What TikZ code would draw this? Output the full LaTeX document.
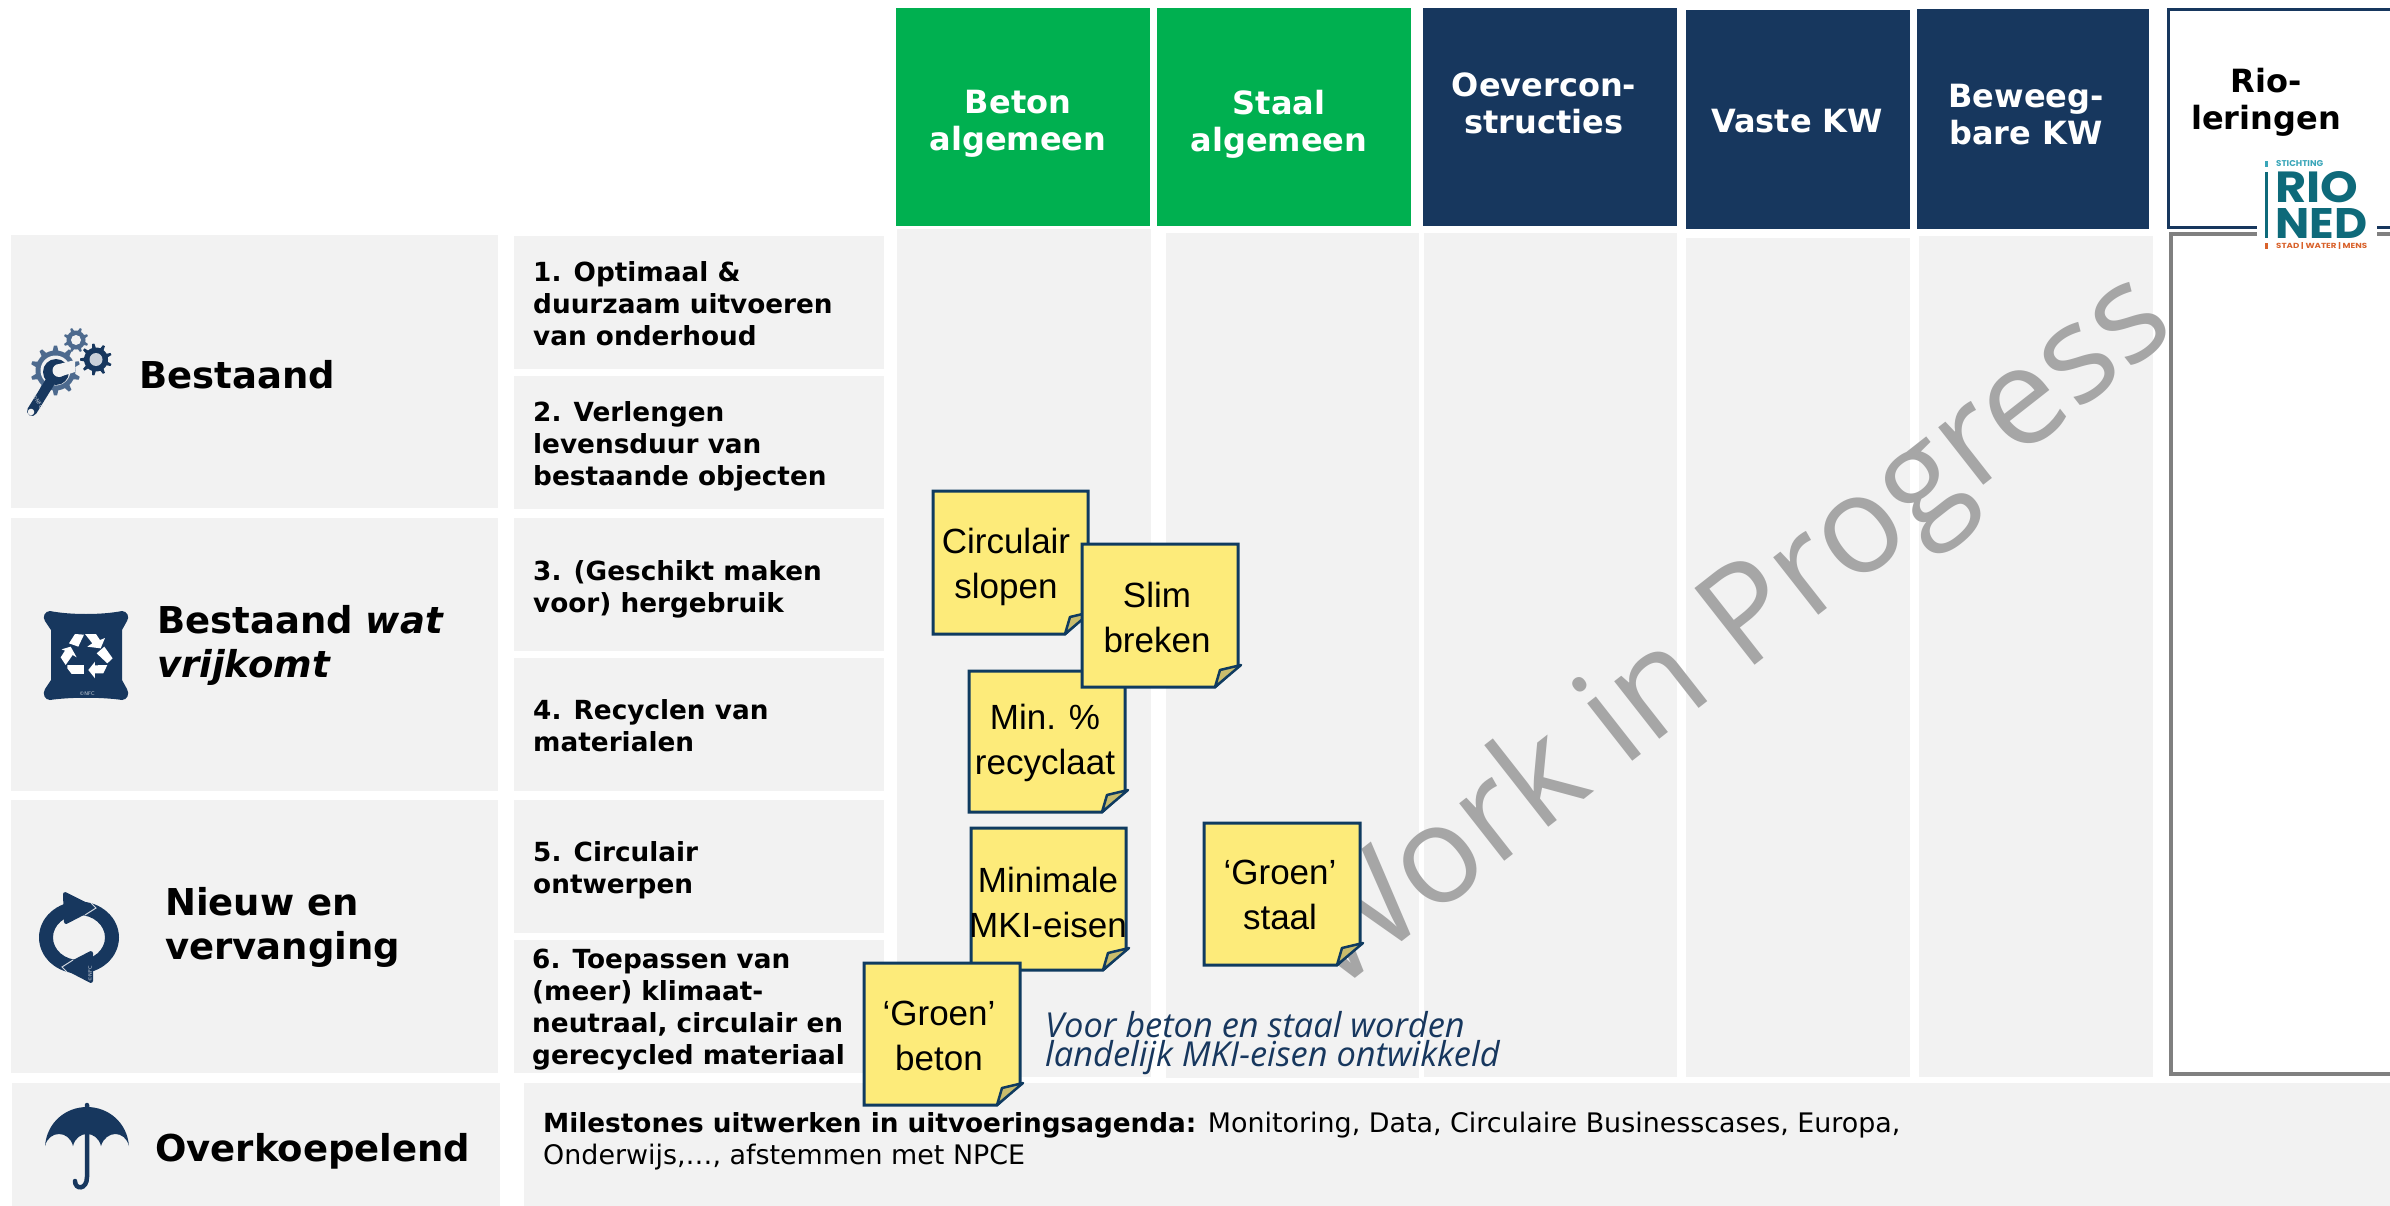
\documentclass[tikz,border=0pt]{standalone}
\usepackage{fontspec}
\usepackage{graphicx}
\setmainfont{DejaVu Sans}
\newfontfamily\notefont{Liberation Sans}
\newfontfamily\bluefont{Open Sans}
\newfontfamily\logofont{Poppins}
\usetikzlibrary{calc}
\definecolor{navy}{HTML}{17375E}
\definecolor{midnavy}{HTML}{4D6A8E}
\definecolor{green}{HTML}{00B050}
\definecolor{panel}{HTML}{F2F2F2}
\definecolor{notey}{HTML}{FDEB7A}
\definecolor{noteb}{HTML}{0F3B60}
\definecolor{notef}{HTML}{C9BC6C}
\definecolor{wip}{HTML}{A6A6A6}
\definecolor{rteal}{HTML}{0E6A7A}
\definecolor{rlight}{HTML}{3AA6B9}
\definecolor{rorange}{HTML}{D9622B}
\newcommand\fs[2]{\fontsize{#1}{#2}\selectfont}
\newcommand\panelrect[4]{\fill[panel] (#1,#2) rectangle (#3,#4);}
% x y Ro Ri teeth hole colour holecolour
\newcommand\gearicon[8]{%
  \begin{scope}[shift={(#1,#2)}]
  \fill[#7] (0:#4) \foreach \i in {1,...,#5}{
     -- ({(\i-0.72)*360/#5}:#4) -- ({(\i-0.6)*360/#5}:#3) -- ({(\i-0.4)*360/#5}:#3) -- ({(\i-0.28)*360/#5}:#4) -- ({\i*360/#5}:#4)} -- cycle;
  \fill[#8] (0,0) circle (#6);
  \end{scope}}
% sticky: name l t r b textx texty text
\newcommand\sticky[8]{%
  \filldraw[notestyle] (#2,#3) -- (#4,#3) -- (#4,#5-21) -- (#4-23,#5) -- (#2,#5) -- cycle;
  \filldraw[notefold] (#4-23,#5) -- (#4-18,#5-17) -- (#4+3,#5-22) -- cycle;
  \node[notetext] (#1) at (#6,#7) {#8};}
\tikzset{
  notestyle/.style={fill=notey,draw=noteb,line width=3pt,line join=miter},
  notefold/.style={fill=notef,draw=noteb,line width=2.5pt,line join=round},
  notetext/.style={align=center,inner sep=0,font=\notefont\fs{35}{45}},
  headtext/.style={align=center,inner sep=0,text=white,font=\bfseries\fs{32}{37}},
  rowtext/.style={align=left,anchor=west,inner sep=0,font=\bfseries\fs{26.3}{32}},
  grouptext/.style={align=left,anchor=west,inner sep=0,font=\bfseries\fs{37}{44}},
}
\begin{document}
\begin{tikzpicture}[x=1pt,y=-1pt]
\useasboundingbox (0,0) rectangle (2390,1206);
% left panels
\panelrect{11}{235}{498}{508}
\panelrect{11}{518}{498}{791}
\panelrect{11}{800}{498}{1073}
\panelrect{12}{1083}{500}{1206}
\panelrect{524}{1083}{2390}{1206}
\panelrect{514}{236}{884}{369}
\panelrect{514}{376}{884}{509}
\panelrect{514}{518}{884}{651}
\panelrect{514}{658}{884}{791}
\panelrect{514}{800}{884}{933}
\panelrect{514}{940}{884}{1073}
% columns
\panelrect{897}{229}{1151}{1077}
\panelrect{1166}{233}{1419}{1078}
\panelrect{1424}{233}{1677}{1077}
\panelrect{1686}{238}{1910}{1077}
\panelrect{1919}{236}{2153}{1077}
% headers
\fill[green] (896,8) rectangle (1150,226);
\fill[green] (1157,8) rectangle (1411,226);
\fill[navy] (1423,8) rectangle (1677,226);
\fill[navy] (1686,10) rectangle (1910,229);
\fill[navy] (1917,9) rectangle (2149,229);
\draw[navy,line width=3pt] (2395,10) -- (2168,10) -- (2168,228) -- (2395,228);
\draw[black!50,line width=3.5pt] (2395,234) -- (2171,234) -- (2171,1074) -- (2395,1074);
\node[headtext] (hbeton) at (1018,124) {Beton\\algemeen};
\node[headtext] (hstaal) at (1279,124) {Staal\\algemeen};
\node[headtext] (hoever) at (1544,103) {Oevercon-\\structies};
\node[headtext] (hvaste) at (1797,121) {Vaste KW};
\node[headtext] (hbew) at (2026,115) {Beweeg-\\bare KW};
\node[headtext,text=black] (hrio) at (2266,102) {Rio-\\leringen};
% logo
\fill[white] (2257,155) rectangle (2377,250);
\fill[rteal] (2265,172) rectangle (2267.5,238);
\fill[rlight] (2265,161) rectangle (2267.5,167);
\fill[rorange] (2265,243) rectangle (2267.5,249);
\node[inner sep=0,anchor=west,text=rlight] (lgs) at (2276,164) {\resizebox{47pt}{6pt}{\logofont\bfseries STICHTING}};
\node[inner sep=0,anchor=west,text=rteal] (lgr) at (2275,187.5) {\resizebox{83pt}{31pt}{\logofont\bfseries RIO}};
\node[inner sep=0,anchor=west,text=rteal] (lgn) at (2275,223) {\resizebox{92pt}{30pt}{\logofont\bfseries NED}};
\node[inner sep=0,anchor=west,text=rorange] (lgw) at (2276,246) {\resizebox{91pt}{6pt}{\logofont\bfseries STAD | WATER | MENS}};
% work in progress
\node[inner sep=0,text=wip,rotate=38.1,anchor=base west] (wip) at (1333,996) {\resizebox{1075pt}{!}{\bluefont\fs{130}{150}Work in Progress}};
% gears
\gearicon{55.5}{370.5}{25}{20}{10}{15}{midnavy}{panel}
\gearicon{76}{340}{12.5}{9.5}{8}{5}{midnavy}{panel}
\gearicon{96}{359.5}{16}{12}{9}{6.5}{navy}{panel!75!midnavy}
% wrench
\draw[navy,line width=10pt,line cap=round] (50,382) -- (32,411);
\fill[navy] (56,372) circle (13);
\fill[panel] (59,370.5) circle (6.5);
\fill[panel] (59,364) -- (75,360) -- (75,372) -- (59,377) -- cycle;
\fill[panel] (31,412) circle (3.3);
\node[inner sep=0,text=white!80!navy,rotate=-58] (cnfc1) at (38,402) {\fs{5}{5}©NFC};
% bag
\fill[navy] (50,611) .. controls (70,615) and (102,615) .. (122,611)
  .. controls (127,611) and (130,617) .. (127,621) -- (122,630) -- (122,680) -- (127,689)
  .. controls (130,694) and (127,700) .. (122,700)
  .. controls (102,697) and (70,697) .. (50,700)
  .. controls (45,700) and (42,694) .. (45,689) -- (51,680) -- (51,630) -- (45,621)
  .. controls (42,617) and (45,611) .. (50,611) -- cycle;
\begin{scope}[shift={(50,620)},x=0.3333pt,y=-0.3333pt]
 \fill[white] (57,70) -- (75,42) -- (102,44) -- (85,80) -- cycle;
 \fill[white] (105,42) -- (138,42) -- (150,60) -- (165,54) -- (152,85) -- (112,80) -- (127,70) -- cycle;
 \fill[white] (163,80) -- (188,115) -- (172,130) -- (140,100) -- cycle;
 \fill[white] (172,135) -- (160,160) -- (135,160) -- (135,175) -- (115,150) -- (135,125) -- (135,136) -- cycle;
 \fill[white] (52,135) -- (102,135) -- (102,162) -- (65,162) -- (52,145) -- cycle;
 \fill[white] (35,88) -- (62,80) -- (80,112) -- (68,105) -- (47,135) -- (32,112) -- (45,92) -- cycle;
\end{scope}
\node[inner sep=0,text=white!75!navy] (cnfc2) at (87,694) {\fs{5}{5}©NFC};
% cycle
\fill[navy,even odd rule] (79,937.5) ellipse [x radius=40,y radius=36] (79,937.5) ellipse [x radius=26,y radius=22.5];
\filldraw[navy,line width=4pt,line join=round] (65,894) -- (93,908) -- (66,922) -- cycle;
\filldraw[navy,line width=4pt,line join=round] (91,953) -- (64,967) -- (91,981) -- cycle;
\draw[white!80!navy,line width=1pt] (91,903) -- (96,908) -- (85,915);
\draw[white!80!navy,line width=1pt] (67,972) -- (62,967) -- (73,960);
\node[inner sep=0,text=white!75!navy,rotate=90] (cnfc3) at (90,974) {\fs{5}{5}©NFC};
% umbrella
\fill[navy] (45,1146) .. controls (47,1122) and (66,1107) .. (87,1107) .. controls (108,1107) and (127,1122) .. (129,1146)
  .. controls (125,1130) and (106,1130) .. (101,1146) .. controls (97,1130) and (77,1130) .. (73,1146)
  .. controls (69,1130) and (49,1130) .. (45,1146) -- cycle;
\draw[navy,line width=4.5pt,line cap=round] (87,1105) -- (87,1177) .. controls (87,1190) and (75,1190) .. (75,1181);
% group labels
\node[grouptext] (gbest) at (139,374.5) {Bestaand};
\node[grouptext] (gwat) at (157,645) {Bestaand \textit{wat}\\\textit{vrijkomt}};
\node[grouptext] (gnieuw) at (165,927.5) {Nieuw en\\vervanging};
\node[grouptext] (gover) at (155,1151) {Overkoepelend};
% rows
\node[rowtext] (r1) at (533,303.5) {1. Optimaal \&\\duurzaam uitvoeren\\van onderhoud};
\node[rowtext] (r2) at (533,446.5) {2. Verlengen\\levensduur van\\bestaande objecten};
\node[rowtext] (r3) at (533,589.5) {3. (Geschikt maken\\voor) hergebruik};
\node[rowtext] (r4) at (533,725.5) {4. Recyclen van\\materialen};
\node[rowtext] (r5) at (533,870) {5. Circulair\\ontwerpen};
\node[rowtext] (r6) at (532,1010) {6. Toepassen van\\(meer) klimaat-\\neutraal, circulair en\\gerecycled materiaal};
% milestones
\node[align=left,anchor=west,inner sep=0,font=\fs{26.9}{32}] (miles) at (543,1141) {{\bfseries\fs{26.3}{32}Milestones uitwerken in uitvoeringsagenda:} Monitoring, Data, Circulaire Businesscases, Europa,\\Onderwijs,…, afstemmen met NPCE};
% stickies
\sticky{sc}{933}{491}{1088}{634}{1006}{567}{Circulair\\slopen}
\sticky{sm}{969}{671}{1125}{812}{1045}{743}{Min. \%\\recyclaat}
\sticky{ss}{1082}{544}{1238}{687}{1157}{617}{Slim\\breken}
\sticky{se}{971}{828}{1126}{970}{1048}{902}{Minimale\\MKI-eisen}
\sticky{sb}{864}{963}{1020}{1105}{939}{1036}{‘Groen’\\beton}
\sticky{sg}{1204}{823}{1360}{965}{1280}{894.5}{‘Groen’\\staal}
% note
\node[align=left,anchor=west,inner sep=0,text=navy,font=\bluefont\itshape\fs{34.4}{29}] (vb) at (1045,1043.5) {Voor beton en staal worden\\landelijk MKI-eisen ontwikkeld};
\end{tikzpicture}
\end{document}
